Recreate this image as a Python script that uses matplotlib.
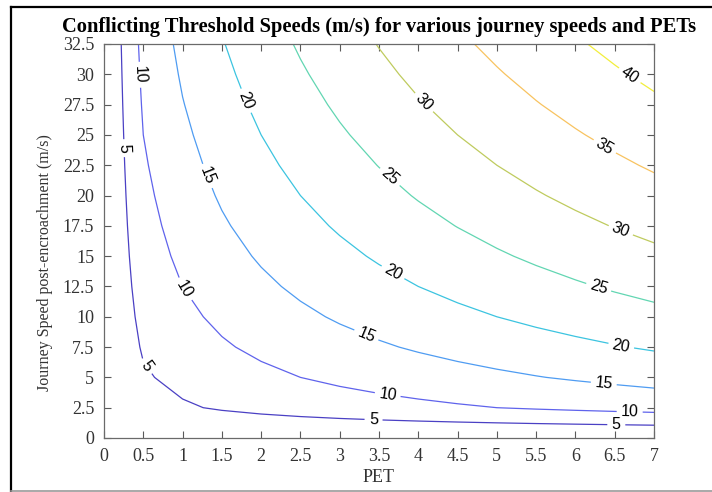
import numpy as np
import matplotlib
matplotlib.use('Agg')
import matplotlib.pyplot as plt
from matplotlib.lines import Line2D

# ── data: PET grid (s), journey speed grid (m/s), threshold speed (m/s) ──
pet = [0, 0.5, 1, 1.5, 2, 2.5, 3, 3.5, 4, 4.5, 5, 5.5, 6, 6.5, 7]
journey_speed = [0, 2.5, 5, 7.5, 10, 12.5, 15, 17.5, 20, 22.5, 25, 27.5, 30, 32.5]
threshold_speed = [
    [0, 0.00, 0.00, 0.00, 0.00, 0.00, 0.00, 0.00, 0.00, 0.00, 0.00, 0.00, 0.00, 0.00, 0.00],
    [0, 3.16, 4.47, 5.48, 6.32, 7.07, 7.75, 8.37, 8.94, 9.49, 10.00, 10.49, 10.95, 11.40, 11.83],
    [0, 4.47, 6.32, 7.75, 8.94, 10.00, 10.95, 11.83, 12.65, 13.42, 14.14, 14.83, 15.49, 16.12, 16.73],
    [0, 5.48, 7.75, 9.49, 10.95, 12.25, 13.42, 14.49, 15.49, 16.43, 17.32, 18.17, 18.97, 19.75, 20.49],
    [0, 6.32, 8.94, 10.95, 12.65, 14.14, 15.49, 16.73, 17.89, 18.97, 20.00, 20.98, 21.91, 22.80, 23.66],
    [0, 7.07, 10.00, 12.25, 14.14, 15.81, 17.32, 18.71, 20.00, 21.21, 22.36, 23.45, 24.49, 25.50, 26.46],
    [0, 7.75, 10.95, 13.42, 15.49, 17.32, 18.97, 20.49, 21.91, 23.24, 24.49, 25.69, 26.83, 27.93, 28.98],
    [0, 8.37, 11.83, 14.49, 16.73, 18.71, 20.49, 22.14, 23.66, 25.10, 26.46, 27.75, 28.98, 30.17, 31.30],
    [0, 8.94, 12.65, 15.49, 17.89, 20.00, 21.91, 23.66, 25.30, 26.83, 28.28, 29.66, 30.98, 32.25, 33.47],
    [0, 9.49, 13.42, 16.43, 18.97, 21.21, 23.24, 25.10, 26.83, 28.46, 30.00, 31.46, 32.86, 34.21, 35.50],
    [0, 10.00, 14.14, 17.32, 20.00, 22.36, 24.49, 26.46, 28.28, 30.00, 31.62, 33.17, 34.64, 36.06, 37.42],
    [0, 10.49, 14.83, 18.17, 20.98, 23.45, 25.69, 27.75, 29.66, 31.46, 33.17, 34.79, 36.33, 37.82, 39.24],
    [0, 10.95, 15.49, 18.97, 21.91, 24.49, 26.83, 28.98, 30.98, 32.86, 34.64, 36.33, 37.95, 39.50, 40.99],
    [0, 11.40, 16.12, 19.75, 22.80, 25.50, 27.93, 30.17, 32.25, 34.21, 36.06, 37.82, 39.50, 41.11, 42.66],
]
levels = [5, 10, 15, 20, 25, 30, 35, 40]

# parula-ish colours as they show up on screen
level_colors = ['#4a40c4', '#5f63ec', '#4f9cf2', '#3cc4e0', '#62d6b2',
                '#bfcb5e', '#f8c360', '#f2ee3c']

# where MATLAB put the inline labels
label_pos = [
    (0.225, 23.9), (0.54, 5.9), (3.43, 1.4), (6.52, 1.0),
    (0.42, 29.95), (1.01, 12.2), (3.61, 3.55), (6.69, 2.0),
    (1.31, 21.6), (3.33, 8.36), (6.36, 4.45),
    (1.78, 27.75), (3.66, 13.45), (6.58, 7.5),
    (3.62, 21.4), (6.29, 12.3),
    (4.06, 27.6), (6.57, 17.0),
    (6.36, 23.9),
    (6.67, 29.7),
]

plt.rcParams.update({
    'font.family': 'serif',
    'font.serif': ['Liberation Serif', 'DejaVu Serif'],
    'font.size': 12,
})

fig = plt.figure(figsize=(7.12, 4.92), dpi=100)
ax = fig.add_axes([104 / 712, 54 / 492, 550 / 712, 394 / 492])

X, Y = np.meshgrid(pet, journey_speed)
Z = np.array(threshold_speed)
cs = ax.contour(X, Y, Z, levels=levels, colors=level_colors, linewidths=0.9)
ax.clabel(cs, manual=label_pos, inline=True, inline_spacing=5, fmt='%d',
          fontsize=11.5, colors='black')
for t in cs.labelTexts:
    t.set_fontfamily(['Liberation Sans', 'DejaVu Sans'])

ax.set_xlim(0, 7)
ax.set_ylim(0, 32.5)
ax.set_xticks(pet)
ax.set_xticklabels([f'{v:g}' for v in pet])
ax.set_yticks(journey_speed)
ax.set_yticklabels([f'{v:g}' for v in journey_speed])
ax.tick_params(direction='in', top=True, right=True, length=5, width=0.8,
               color='#5a5a5a', labelcolor='#333333', labelsize=13)
ax.tick_params(axis='x', pad=7)
ax.tick_params(axis='y', pad=7)
for s in ax.spines.values():
    s.set_color('#6a6a6a')
    s.set_linewidth(0.9)

ax.set_xlabel('PET', fontsize=13, color='#333333', labelpad=3)
ax.set_ylabel('Journey Speed post-encroachment (m/s)', fontsize=11.5,
              color='#333333')
ax.yaxis.set_label_coords(-0.093, 0.445)
ax.set_title('Conflicting Threshold Speeds (m/s) for various journey speeds and PETs',
             fontsize=14.8, fontweight='bold', pad=8.5)

# screenshot frame
fig.add_artist(Line2D([10.5 / 712, 1], [1 - 6.5 / 492, 1 - 6.5 / 492],
                      transform=fig.transFigure, color='black', lw=1.6))
fig.add_artist(Line2D([10.5 / 712, 10.5 / 712], [0, 1 - 6.5 / 492],
                      transform=fig.transFigure, color='black', lw=1.6))
fig.add_artist(Line2D([10.5 / 712, 1], [1.2 / 492, 1.2 / 492],
                      transform=fig.transFigure, color='#999999', lw=1.2))

fig.savefig('out.png', dpi=100)
